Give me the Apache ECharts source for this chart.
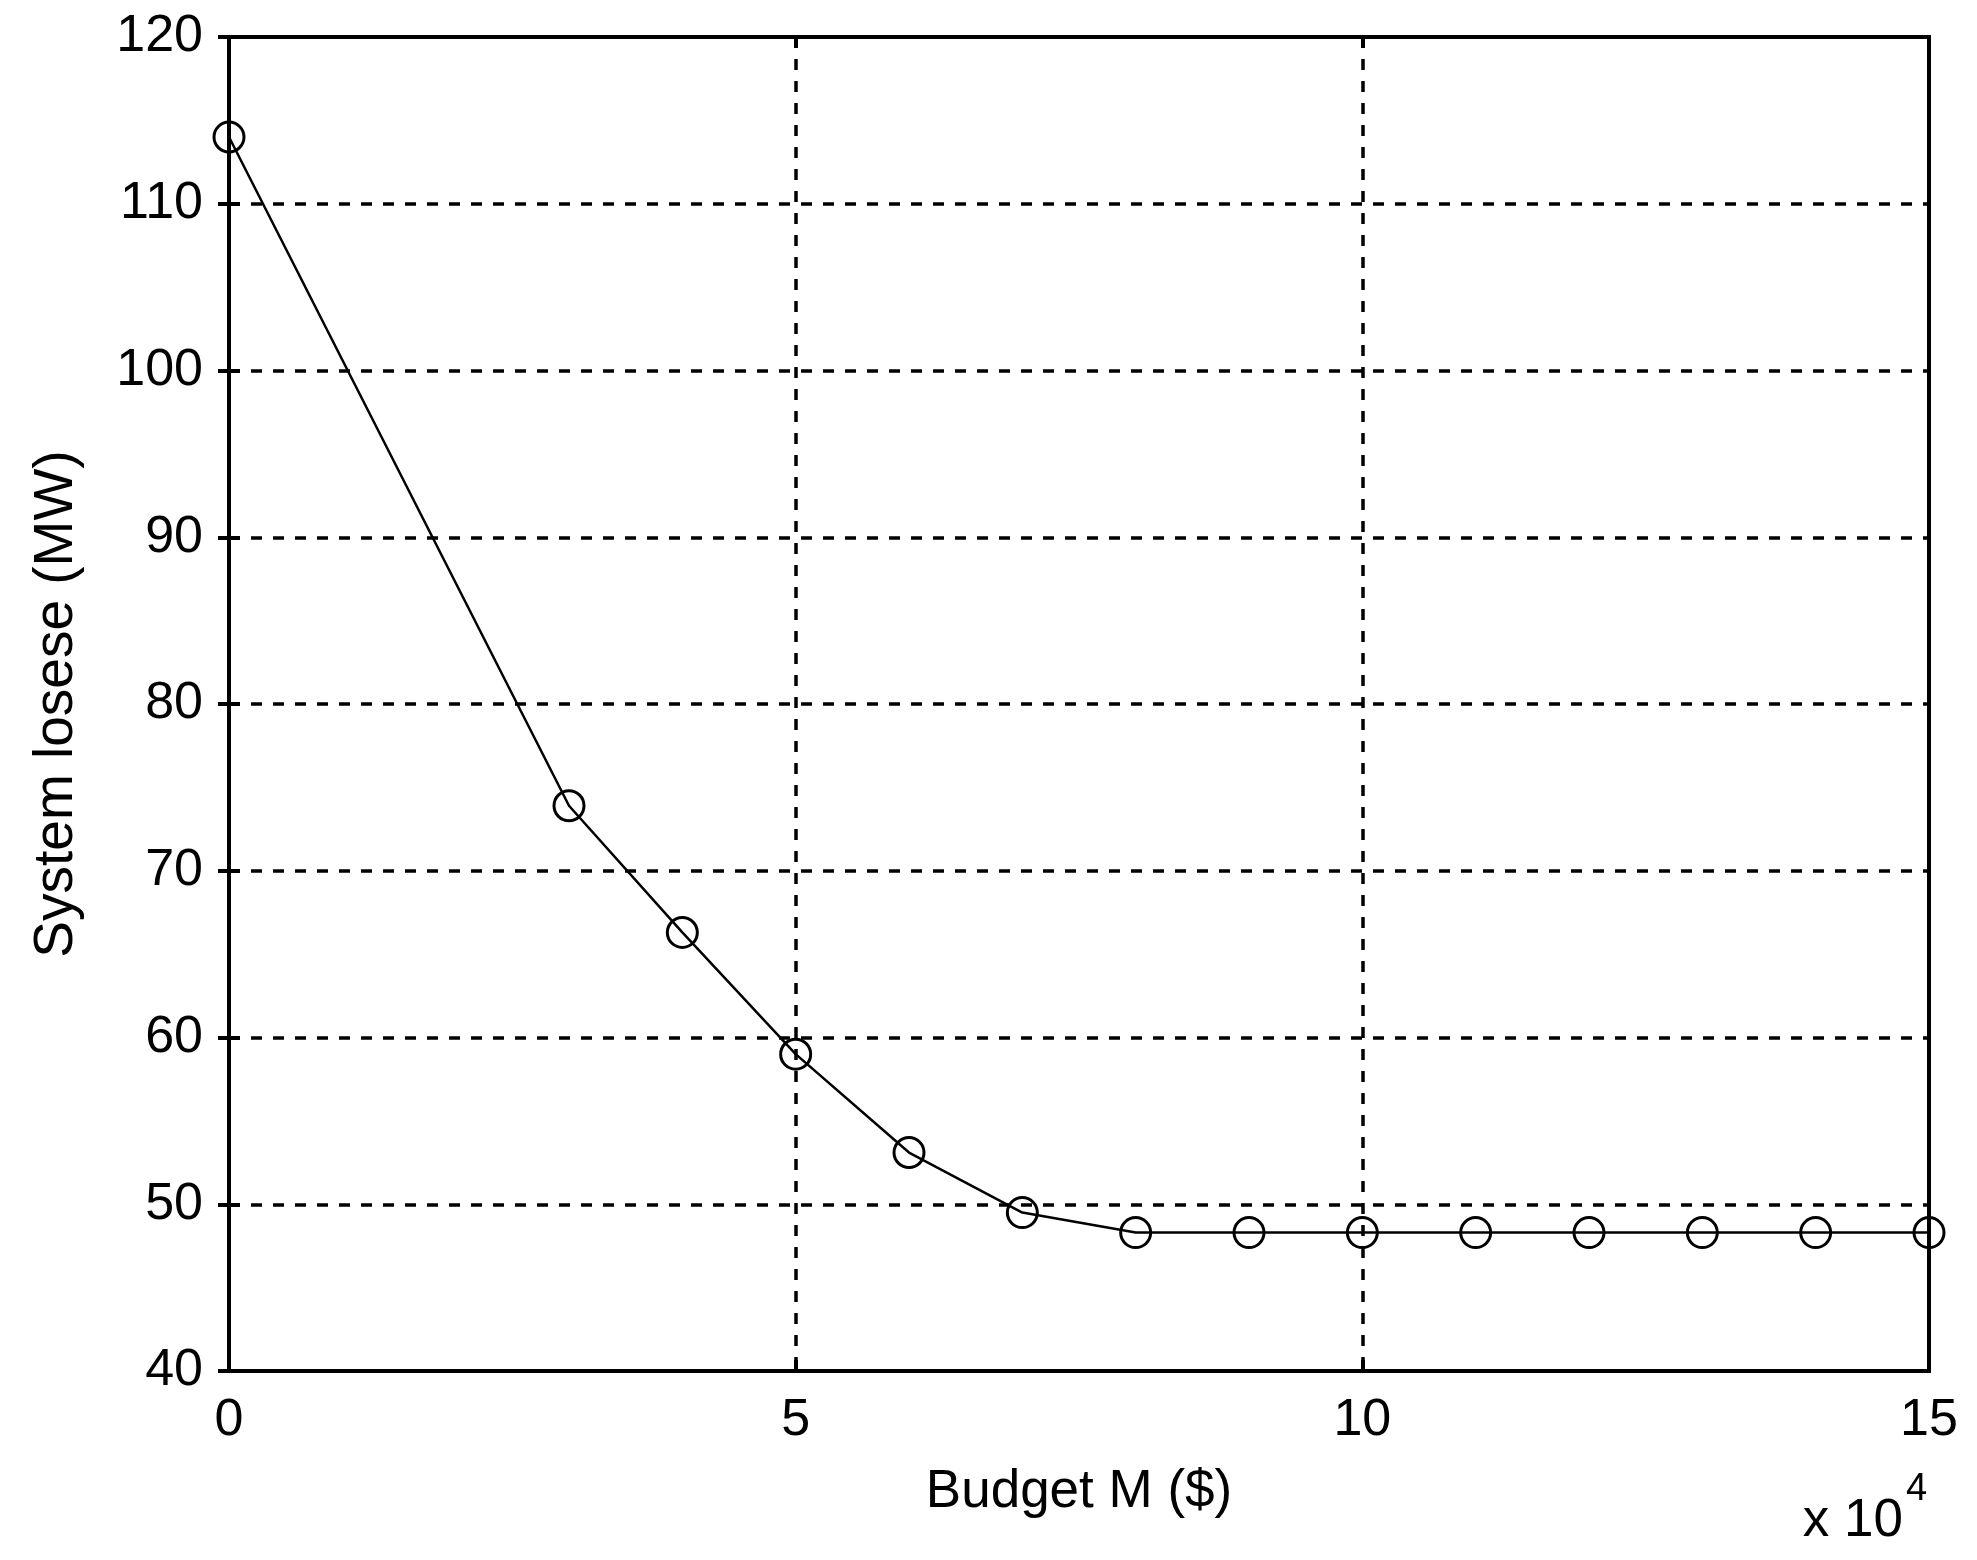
<!DOCTYPE html>
<html>
<head>
<meta charset="utf-8">
<title>System losses vs budget</title>
<script src="https://cdn.jsdelivr.net/npm/echarts@6/dist/echarts.min.js"></script>
<style>
  html, body { margin: 0; padding: 0; background: #fff; }
  #chart { width: 1977px; height: 1560px; }
</style>
</head>
<body>
<div id="chart"></div>
<script>
// budget in units of 10^4 $
const budget = [0, 3, 4, 5, 6, 7, 8, 9, 10, 11, 12, 13, 14, 15];
// system losses (MW)
const losses = [114.0, 73.9, 66.3, 59.0, 53.1, 49.5, 48.3, 48.3, 48.3, 48.3, 48.3, 48.3, 48.3, 48.3];

const xTicks = [0, 5, 10, 15];
const yTicks = [40, 50, 60, 70, 80, 90, 100, 110, 120];

const font = "'Liberation Sans', Arial, Helvetica, sans-serif";

const chart = echarts.init(document.getElementById("chart"));

const tickStyle = { show: true, inside: true, length: 11, lineStyle: { color: "#000", width: 4 } };
const dashed = { show: true, lineStyle: { color: "#000", width: 3.5, type: [11, 11] } };
const solidLine = { show: true, lineStyle: { color: "#000", width: 4 } };

const option = {
  backgroundColor: "#fff",
  animation: false,
  grid: {
    left: 229,
    top: 37,
    width: 1700,
    height: 1334,
    show: true,
    borderColor: "#000",
    borderWidth: 4,
    containLabel: false,
  },
  xAxis: [
    {
      type: "value",
      min: xTicks[0],
      max: xTicks[xTicks.length - 1],
      interval: 5,
      axisLine: solidLine,
      axisTick: tickStyle,
      axisLabel: { color: "#000", fontFamily: font, fontSize: 52, lineHeight: 52, margin: 24 },
      splitLine: dashed,
      name: "Budget M ($)",
      nameLocation: "middle",
      nameGap: 95,
      nameTextStyle: { color: "#000", fontFamily: font, fontSize: 53, lineHeight: 53 },
    },
    {
      type: "value",
      position: "top",
      min: xTicks[0],
      max: xTicks[xTicks.length - 1],
      interval: 5,
      axisLine: solidLine,
      axisTick: tickStyle,
      axisLabel: { show: false },
      splitLine: { show: false },
    },
  ],
  yAxis: [
    {
      type: "value",
      min: yTicks[0],
      max: yTicks[yTicks.length - 1],
      interval: 10,
      axisLine: solidLine,
      axisTick: tickStyle,
      axisLabel: { color: "#000", fontFamily: font, fontSize: 52, lineHeight: 52, margin: 26 },
      splitLine: dashed,
      name: "System losese (MW)",
      nameLocation: "middle",
      nameRotate: 90,
      nameGap: 145,
      nameTextStyle: { color: "#000", fontFamily: font, fontSize: 55, lineHeight: 55 },
    },
    {
      type: "value",
      position: "right",
      min: yTicks[0],
      max: yTicks[yTicks.length - 1],
      interval: 10,
      axisLine: solidLine,
      axisTick: tickStyle,
      axisLabel: { show: false },
      splitLine: { show: false },
    },
  ],
  graphic: [
    {
      type: "text",
      right: 1977 - 1903,
      top: 1522 - 27,
      style: { text: "x 10", fill: "#000", font: "53px " + font },
    },
    {
      type: "text",
      left: 1906,
      top: 1490 - 19,
      style: { text: "4", fill: "#000", font: "38px " + font },
    },
  ],
  series: [
    {
      type: "line",
      data: budget.map((b, i) => [b, losses[i]]),
      clip: false,
      symbol: "circle",
      symbolSize: 30,
      showAllSymbol: true,
      lineStyle: { color: "#000", width: 2.5 },
      itemStyle: { color: "rgba(0,0,0,0)", borderColor: "#000", borderWidth: 3 },
      emphasis: { disabled: true },
    },
  ],
};

chart.setOption(option);
</script>
</body>
</html>
